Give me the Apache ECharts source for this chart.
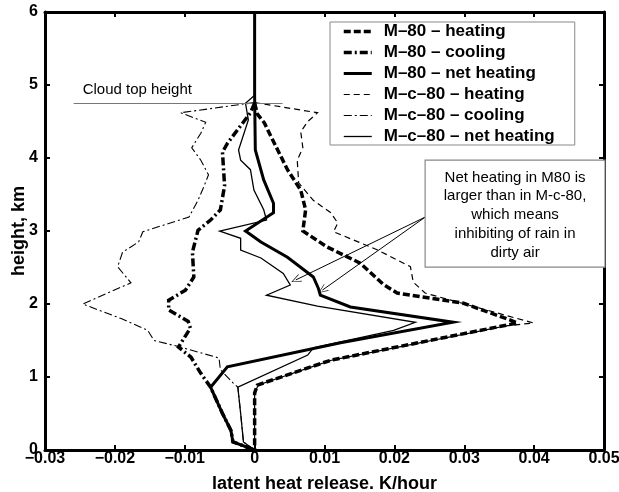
<!DOCTYPE html>
<html><head><meta charset="utf-8">
<script src="https://cdn.jsdelivr.net/npm/echarts@6/dist/echarts.min.js"></script>
<style>html,body{margin:0;padding:0;background:#fff}#c{width:619px;height:492px}</style>
</head><body><div id="c"></div>
<script>
const FONT = 'Liberation Sans, Arial, Helvetica, sans-serif';

// axis settings (values)
const xMin = -0.03, xMax = 0.05, xStep = 0.01;
const yMin = 0, yMax = 6, yStep = 1;

// series names
const names = ['M–80 – heating', 'M–80 – cooling', 'M–80 – net heating',
               'M–c–80 – heating', 'M–c–80 – cooling', 'M–c–80 – net heating'];

// M-80 heating
const m80HeatH = [4.75, 4.6, 4.48, 4.38, 4.11, 3.84, 3.56, 3.29, 3.0, 2.78, 2.56, 2.27, 2.15, 2.01, 1.78, 1.74, 1.23, 0.89, 0.78, 0];
const m80HeatV = [0, 0.0004, 0.0014, 0.0019, 0.0033, 0.0047, 0.0066, 0.0073, 0.0069, 0.0104, 0.0151, 0.0184, 0.0204, 0.0299, 0.0366, 0.0376, 0.0109, 0.0004, 0, 0];

// M-80 cooling
const m80CoolH = [4.75, 4.62, 4.48, 4.2, 4.08, 3.62, 3.29, 3.15, 3.01, 2.71, 2.37, 2.19, 2.05, 1.92, 1.76, 1.67, 1.41, 1.27, 1.05, 0.86, 0.5, 0.27, 0.11, 0];
const m80CoolV = [0, -0.0006, -0.0017, -0.0039, -0.0046, -0.0043, -0.0049, -0.0063, -0.0081, -0.0089, -0.0087, -0.0099, -0.0123, -0.0123, -0.0095, -0.0092, -0.0109, -0.0091, -0.0077, -0.0063, -0.0046, -0.0034, -0.0031, 0];

// M-80 net heating
const m80NetH = [6, 4.85, 4.11, 3.7, 3.38, 3.25, 3.0, 2.85, 2.64, 2.37, 2.22, 2.12, 1.96, 1.75, 1.47, 1.14, 0.86, 0.5, 0.27, 0.11, 0];
const m80NetV = [0, 0, 0.0001, 0.0013, 0.0027, 0.0027, -0.0013, 0.0009, 0.0047, 0.0084, 0.0091, 0.0094, 0.0137, 0.0284, 0.0123, -0.0039, -0.0063, -0.0046, -0.0034, -0.0031, 0];

// M-c-80 heating
const mc80HeatH = [4.76, 4.62, 4.5, 4.36, 4.14, 3.97, 3.66, 3.42, 3.25, 3.11, 2.99, 2.74, 2.51, 2.3, 2.15, 1.74, 1.70, 1.23, 0.89, 0.78, 0];
const mc80HeatV = [0, 0.009, 0.0076, 0.0066, 0.0069, 0.0061, 0.0063, 0.0084, 0.0109, 0.0119, 0.0113, 0.0176, 0.0223, 0.0227, 0.0244, 0.0399, 0.036, 0.011, 0.0005, 0, 0];

// M-c-80 cooling
const mc80CoolH = [4.76, 4.62, 4.49, 4.34, 4.14, 3.97, 3.77, 3.6, 3.42, 3.19, 3.1, 2.99, 2.85, 2.71, 2.51, 2.29, 2.0, 1.8, 1.64, 1.5, 1.41, 1.26, 1.1, 0.92, 0.86, 0.5, 0.11, 0];
const mc80CoolV = [0, -0.0106, -0.007, -0.0077, -0.009, -0.0077, -0.0066, -0.0073, -0.0081, -0.0094, -0.0124, -0.016, -0.0166, -0.0189, -0.0196, -0.0177, -0.0246, -0.0191, -0.0153, -0.0144, -0.0106, -0.0051, -0.0049, -0.0031, -0.0024, -0.002, -0.0016, 0];

// M-c-80 net heating
const mc80NetH = [4.86, 4.75, 4.52, 4.11, 3.97, 3.84, 3.56, 3.29, 3.15, 3.0, 2.9, 2.74, 2.63, 2.42, 2.26, 2.12, 1.97, 1.75, 1.64, 1.40, 1.30, 0.86, 0.5, 0.11, 0];
const mc80NetV = [0, -0.0013, -0.0009, -0.0023, -0.002, -0.0006, -0.0001, 0.0013, 0.0017, -0.005, -0.002, -0.002, 0.0009, 0.0041, 0.0051, 0.0017, 0.009, 0.023, 0.0199, 0.0084, 0.0076, -0.0024, -0.002, -0.0016, 0];

// annotations (data coordinates)
const cloudTopHeight = 4.75;
const cloudTopFrom = -0.0259, cloudTopTo = 0.004;
const cloudTopLabel = 'Cloud top height';
const noteLines = ['Net heating in M80 is', 'larger than in M-c-80,', 'which means', 'inhibiting of rain in', 'dirty air'];
const arrowFrom = [0.0244, 3.19];
const arrowTargets = [[0.0059, 2.33], [0.0097, 2.19]];

function pairs(v, h) { return v.map((x, i) => [x, h[i]]); }

const chart = echarts.init(document.getElementById('c'), null, { renderer: 'canvas' });

const fmtX = v => {
  if (Math.abs(v) < 1e-9) return '0';
  return (v < 0 ? '−' : '') + Math.abs(v).toFixed(2);
};

const tickStyle = { show: true, inside: true, length: 5, lineStyle: { color: '#000', width: 2 } };
const lineAx = { show: true, onZero: false, lineStyle: { color: '#000', width: 3 } };
const labelFont = { fontFamily: FONT, fontWeight: 'bold', fontSize: 16, color: '#000' };

const arrowPath = 'path://M0,0L10,20L8.6,20.6L0,3L-8.6,20.6L-10,20Z';

// line styles per series (same order as names)
const styles = [
  { width: 3.5, type: [7, 3] },
  { width: 3.5, type: [8, 3, 2, 3] },
  { width: 3, type: 'solid' },
  { width: 1.2, type: [6, 4] },
  { width: 1.1, type: [8, 3, 2, 3] },
  { width: 1.3, type: 'solid' }
];

function lineSeries(idx, data, z, extra) {
  return Object.assign({
    name: names[idx], type: 'line', data, symbol: 'none', showSymbol: false,
    xAxisIndex: 0, yAxisIndex: 0, z, animation: false, silent: true,
    lineStyle: Object.assign({ color: '#000', cap: 'butt', join: 'miter' }, styles[idx]),
    itemStyle: { color: '#000' }
  }, extra || {});
}

const option = {
  backgroundColor: '#fff',
  animation: false,
  grid: { left: 45, right: 15, top: 12, bottom: 42, containLabel: false, outerBoundsMode: 'none' },
  xAxis: [
    { type: 'value', min: xMin, max: xMax, interval: xStep, position: 'bottom',
      axisLine: lineAx, axisTick: tickStyle, splitLine: { show: false },
      axisLabel: Object.assign({ formatter: fmtX, margin: 1 }, labelFont),
      name: 'latent heat release. K/hour', nameLocation: 'middle', nameGap: 25, nameMoveOverlap: false,
      nameTextStyle: { fontFamily: FONT, fontWeight: 'bold', fontSize: 18, color: '#000' } },
    { type: 'value', min: xMin, max: xMax, interval: xStep, position: 'top',
      axisLine: lineAx, axisTick: tickStyle, splitLine: { show: false }, axisLabel: { show: false } }
  ],
  yAxis: [
    { type: 'value', min: yMin, max: yMax, interval: yStep, position: 'left',
      axisLine: lineAx, axisTick: tickStyle, splitLine: { show: false },
      axisLabel: Object.assign({ margin: 7 }, labelFont),
      name: 'height, km', nameLocation: 'middle', nameGap: 17, nameMoveOverlap: false,
      nameTextStyle: { fontFamily: FONT, fontWeight: 'bold', fontSize: 18, color: '#000' } },
    { type: 'value', min: yMin, max: yMax, interval: yStep, position: 'right',
      axisLine: lineAx, axisTick: tickStyle, splitLine: { show: false }, axisLabel: { show: false } }
  ],
  legend: {
    orient: 'vertical', left: 330, top: 22,
    data: names.map((n, i) => ({ name: n, lineStyle: Object.assign({ color: '#000' }, styles[i]) })),
    itemWidth: 28, itemHeight: 14, itemGap: 4,
    padding: [1, 20, 0, 12],
    borderColor: '#888', borderWidth: 1, backgroundColor: '#fff',
    itemStyle: { color: 'transparent', borderWidth: 0, opacity: 0 },
    textStyle: { fontFamily: FONT, fontWeight: 'bold', fontSize: 17, color: '#000', padding: [0, 0, 0, 7] },
    selectedMode: false
  },
  series: [
    lineSeries(0, pairs(m80HeatV, m80HeatH), 5),
    lineSeries(1, pairs(m80CoolV, m80CoolH), 5),
    lineSeries(2, pairs(m80NetV, m80NetH), 6, {
      markLine: {
        silent: true, animation: false, symbol: ['none', 'none'],
        label: { show: false },
        lineStyle: { color: '#777', width: 1, type: 'solid' },
        data: [[{ coord: [cloudTopFrom, cloudTopHeight] }, { coord: [cloudTopTo, cloudTopHeight] }]]
      }
    }),
    lineSeries(3, pairs(mc80HeatV, mc80HeatH), 4),
    lineSeries(4, pairs(mc80CoolV, mc80CoolH), 4),
    lineSeries(5, pairs(mc80NetV, mc80NetH), 4, {
      markLine: {
        silent: true, animation: false, symbol: ['none', arrowPath], symbolSize: [8, 10],
        label: { show: false },
        lineStyle: { color: '#000', width: 1, type: 'solid' },
        data: arrowTargets.map(t => [{ coord: arrowFrom }, { coord: t }])
      }
    })
  ]
};
chart.setOption(option);

// text annotations placed from data coordinates
const ctPx = chart.convertToPixel({ xAxisIndex: 0, yAxisIndex: 0 }, [cloudTopFrom, cloudTopHeight]);
const apPx = chart.convertToPixel({ xAxisIndex: 0, yAxisIndex: 0 }, arrowFrom);
const boxRight = chart.convertToPixel({ xAxisIndex: 0, yAxisIndex: 0 }, [xMax, 0])[0];
const boxW = boxRight - apPx[0] + 1, boxH = 107;
const boxTop = apPx[1] - 57;
chart.setOption({
  graphic: [
    { type: 'text', left: ctPx[0] + 9, top: ctPx[1] - 21, z: 20,
      style: { text: cloudTopLabel, font: '15px ' + FONT, fill: '#000' } },
    { type: 'rect', shape: { x: apPx[0], y: boxTop, width: boxW, height: boxH }, z: 19,
      style: { fill: '#fff', stroke: '#888', lineWidth: 1.2 } },
    { type: 'text', x: apPx[0] + boxW / 2, y: boxTop + 8, z: 20,
      style: { text: noteLines.join('\n'), font: '15px ' + FONT, fill: '#000',
               align: 'center', verticalAlign: 'top', lineHeight: 18.8 } }
  ]
});
</script></body></html>
